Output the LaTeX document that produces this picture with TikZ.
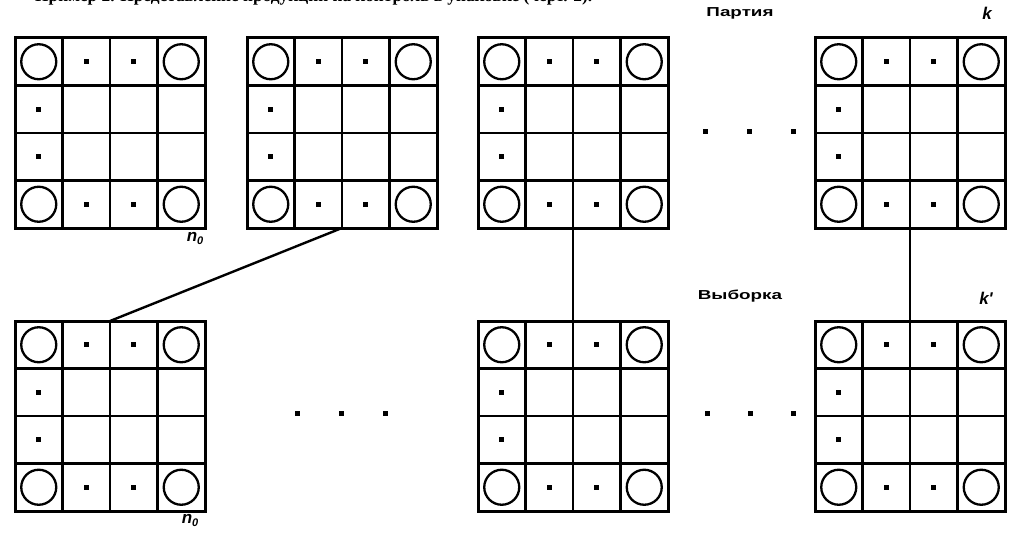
\documentclass[tikz,border=0pt]{standalone}
\usepackage{fontspec}
\setmainfont{Liberation Serif}
\newfontfamily\labfont{Liberation Sans}
\tikzset{
  gridline/.style={line width=2.8pt},
  conn/.style={line width=2.4pt},
  ringmark/.style={line width=2.3pt},
  labelbox/.style={inner sep=0pt, font=\labfont\bfseries\fontsize{13}{13}\selectfont},
  itlabel/.style={inner sep=0pt, font=\labfont\bfseries\itshape\fontsize{17}{17}\selectfont},
  panel/.pic={
    \node[draw, line width=3pt, minimum size=190pt, inner sep=0pt, outer sep=0pt] (-box) at (0,0) {};
    \foreach \k in {1,2,3}{
      \draw[gridline] (-95+47.5*\k,-95) -- (-95+47.5*\k,95);
      \draw[gridline] (-95,-95+47.5*\k) -- (95,-95+47.5*\k);
    }
    \foreach \cx/\cy in {-71.25/-71.25, 71.25/-71.25, -71.25/71.25, 71.25/71.25}
      \draw[ringmark] (\cx,\cy) circle[radius=17.5pt];
    \foreach \cx/\cy in {-23.75/-71.25, 23.75/-71.25, -71.25/-23.75, -71.25/23.75, -23.75/71.25, 23.75/71.25}
      \fill (\cx-2.3,\cy-2.3) rectangle (\cx+2.3,\cy+2.3);
  }
}
\begin{document}
\begin{tikzpicture}[x=1pt,y=-1pt]
\useasboundingbox (0,0) rectangle (1013,535);
\clip (0,0) rectangle (1013,535);
% header (cut off at top)
\node[anchor=base west, inner sep=0pt] (hdr) at (35,1.5)
  {\resizebox{557pt}{!}{\bfseries Пример 2. Представление продукции на контроль в упаковке (черт. 2).}};
% panels
\pic (g1) at (110,133) {panel};
\pic (g2) at (342,133) {panel};
\pic (g3) at (573,133) {panel};
\pic (g4) at (910,133) {panel};
\pic (g5) at (110,416) {panel};
\pic (g6) at (573,416) {panel};
\pic (g7) at (910,416) {panel};
% connectors
\draw[conn] (g2-box.south) -- (g5-box.north);
\draw[conn] (g3-box.south) -- (g6-box.north);
\draw[conn] (g4-box.south) -- (g7-box.north);
% ellipses
\foreach \x in {705,749,793} \fill (\x-2.5,129) rectangle (\x+2.5,134);
\foreach \x in {297,341,385} \fill (\x-2.5,411) rectangle (\x+2.5,416);
\foreach \x in {707,750,793} \fill (\x-2.5,411) rectangle (\x+2.5,416);
% labels
\node[labelbox] (partia) at (740,13) {\scalebox{1.45}[1]{Партия}};
\node[labelbox] (vyborka) at (740,296) {\scalebox{1.45}[1]{Выборка}};
\node[itlabel] (klab) at (987,13) {k};
\node[itlabel] (kplab) at (986,298) {k'};
\node[itlabel, anchor=north] (n0a) at (195,232) {n\raisebox{-3pt}{\fontsize{11}{11}\selectfont 0}};
\node[itlabel, anchor=north] (n0b) at (190,514) {n\raisebox{-3pt}{\fontsize{11}{11}\selectfont 0}};
\end{tikzpicture}
\end{document}
